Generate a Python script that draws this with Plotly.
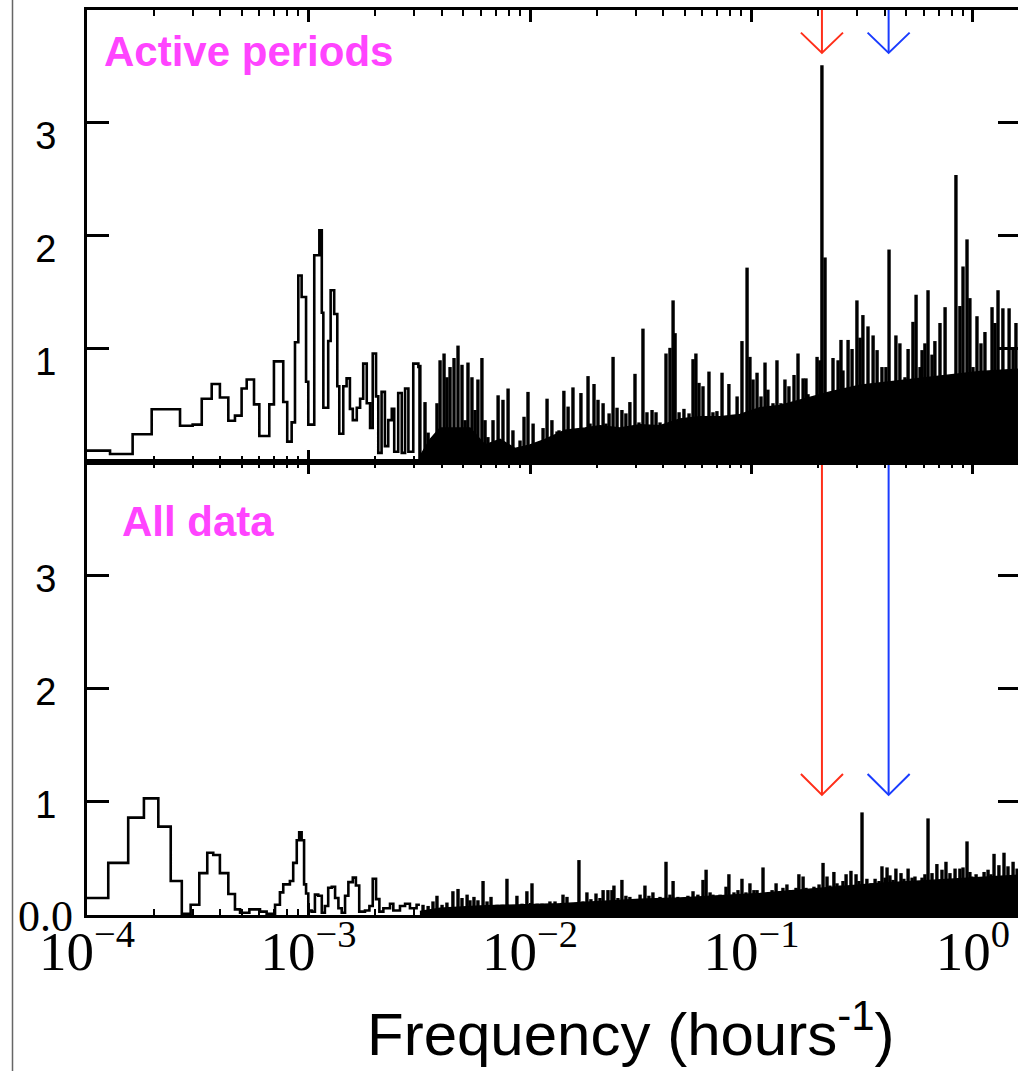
import plotly.graph_objects as go

# ---------------- data ----------------
# Frequencies are stored as log10(frequency / hours^-1).

# "Active periods" panel: low-frequency stepped periodogram (bin start, power)
act_step_logf = [-4.0, -3.896, -3.794, -3.708, -3.580, -3.523, -3.482, -3.437, -3.400, -3.362,
                 -3.332, -3.302, -3.279, -3.246, -3.222, -3.177, -3.156, -3.114, -3.096, -3.076,
                 -3.061, -3.046, -3.031, -3.011, -3.001, -2.974, -2.951, -2.940, -2.933, -2.911,
                 -2.900, -2.884, -2.870, -2.861, -2.843, -2.828, -2.813, -2.800, -2.782, -2.767,
                 -2.753, -2.737, -2.722, -2.710, -2.695, -2.685, -2.670, -2.655, -2.640, -2.624,
                 -2.613, -2.595, -2.579, -2.564, -2.549, -2.527, -2.504, -2.497]
act_step_pow = [0.10, 0.07, 0.245, 0.466, 0.32, 0.33, 0.56, 0.69, 0.57, 0.365,
                0.41, 0.65, 0.73, 0.51, 0.23, 0.51, 0.89, 0.53, 0.18, 0.35,
                1.06, 1.65, 1.46, 0.71, 0.33, 1.83, 2.05, 1.32, 0.48, 1.07,
                1.52, 1.31, 0.67, 0.25, 0.67, 0.74, 0.47, 0.37, 0.48, 0.56,
                0.87, 0.52, 0.30, 0.96, 0.58, 0.08, 0.62, 0.14, 0.37, 0.47,
                0.09, 0.61, 0.08, 0.65, 0.09, 0.87, 0.84, 0.84]

# "Active periods" panel: dense high-frequency peaks
act_spike_logf = [-2.497, -2.474, -2.460, -2.438, -2.420, -2.406, -2.388, -2.375, -2.361, -2.343,
                  -2.325, -2.307, -2.293, -2.280, -2.262, -2.248, -2.235, -2.217, -2.203, -2.190,
                  -2.167, -2.144, -2.122, -2.099, -2.077, -2.045, -2.027, -2.009, -1.986, -1.964,
                  -1.941, -1.923, -1.901, -1.878, -1.869, -1.847, -1.828, -1.806, -1.788, -1.770,
                  -1.756, -1.738, -1.729, -1.711, -1.693, -1.670, -1.657, -1.643, -1.625, -1.607,
                  -1.585, -1.567, -1.549, -1.526, -1.508, -1.490, -1.472, -1.449, -1.431, -1.413,
                  -1.386, -1.368, -1.354, -1.345, -1.327, -1.305, -1.282, -1.264, -1.251, -1.237,
                  -1.219, -1.192, -1.174, -1.156, -1.133, -1.120, -1.102, -1.084, -1.065, -1.043,
                  -1.020, -1.007, -0.993, -0.975, -0.957, -0.939, -0.926, -0.903, -0.885, -0.867,
                  -0.849, -0.831, -0.808, -0.790, -0.767, -0.754, -0.745, -0.727, -0.704, -0.691,
                  -0.682, -0.668, -0.650, -0.632, -0.609, -0.596, -0.587, -0.564, -0.546, -0.524,
                  -0.510, -0.497, -0.474, -0.451, -0.433, -0.411, -0.393, -0.379, -0.366, -0.348,
                  -0.330, -0.307, -0.293, -0.271, -0.257, -0.239, -0.230, -0.217, -0.203, -0.185,
                  -0.172, -0.149, -0.126, -0.104, -0.077, -0.059, -0.045, -0.027, -0.014, 0.000,
                  0.018, 0.036, 0.054, 0.086, 0.099, 0.113, 0.135, 0.163, 0.181, 0.194]
act_spike_pow = [0.86, 0.53, 0.26, 0.22, 0.52, 0.90, 0.96, 0.75, 0.84, 0.92,
                 1.03, 0.86, 0.37, 0.88, 0.75, 0.46, 0.73, 0.92, 0.37, 0.22,
                 0.37, 0.59, 0.55, 0.65, 0.28, 0.19, 0.40, 0.62, 0.34, 0.17,
                 0.30, 0.56, 0.37, 0.27, 0.28, 0.63, 0.49, 0.66, 0.22, 0.61,
                 0.28, 0.76, 0.34, 0.69, 0.55, 0.52, 0.34, 0.43, 0.93, 0.48,
                 0.46, 0.43, 0.53, 0.78, 0.35, 1.18, 0.44, 0.46, 0.44, 0.35,
                 0.96, 1.01, 1.43, 1.14, 0.44, 0.47, 0.43, 0.91, 0.96, 0.70,
                 0.67, 0.80, 0.44, 0.45, 0.79, 0.31, 0.69, 0.41, 0.58, 1.07,
                 1.72, 0.93, 0.73, 0.79, 0.58, 0.88, 0.64, 0.52, 0.90, 0.52,
                 0.73, 0.67, 0.77, 0.96, 0.74, 0.74, 0.60, 0.35, 0.93, 0.90,
                 3.51, 1.81, 0.55, 0.92, 0.90, 1.08, 0.81, 1.08, 1.00, 1.43,
                 1.10, 1.30, 1.20, 1.12, 0.99, 0.84, 0.84, 1.88, 0.58, 1.12,
                 1.05, 0.75, 1.00, 1.24, 1.48, 0.84, 0.99, 1.05, 1.52, 0.95,
                 1.07, 1.23, 1.37, 0.68, 2.54, 1.38, 1.73, 1.97, 1.45, 0.84,
                 1.29, 1.05, 1.15, 1.37, 1.23, 1.52, 1.36, 1.36, 1.00, 1.23]

# "Active periods" panel: mostly-black lower envelope of the dense noise
act_floor_logf = [-2.497, -2.451, -2.406, -2.271, -2.203, -2.135, -2.068, -2.000, -1.932, -1.842,
                  -1.752, -1.684, -1.594, -1.503, -1.413, -1.323, -1.233, -1.142, -1.052, -0.962,
                  -0.871, -0.781, -0.646, -0.510, -0.330, -0.149, 0.032, 0.203]
act_floor_pow = [0.05, 0.20, 0.30, 0.30, 0.15, 0.20, 0.12, 0.15, 0.20, 0.28,
                 0.30, 0.32, 0.30, 0.33, 0.32, 0.38, 0.40, 0.40, 0.42, 0.48,
                 0.50, 0.55, 0.62, 0.68, 0.72, 0.76, 0.80, 0.82]

# "All data" panel: low-frequency stepped periodogram
all_step_logf = [-4.0, -3.904, -3.814, -3.743, -3.678, -3.622, -3.572, -3.532, -3.493, -3.457,
                 -3.430, -3.400, -3.362, -3.332, -3.309, -3.267, -3.219, -3.189, -3.151, -3.129,
                 -3.114, -3.084, -3.069, -3.053, -3.042, -3.031, -3.020, -3.011, -3.001, -2.986,
                 -2.971, -2.956, -2.940, -2.926, -2.911, -2.895, -2.880, -2.865, -2.850, -2.835,
                 -2.820, -2.800, -2.786, -2.771, -2.745, -2.725, -2.710, -2.695, -2.680, -2.662,
                 -2.632, -2.617, -2.587, -2.564, -2.542, -2.512, -2.497]
all_step_pow = [0.15, 0.46, 0.86, 1.03, 0.78, 0.30, 0.01, 0.09, 0.37, 0.55,
                0.53, 0.37, 0.185, 0.05, 0.02, 0.05, 0.03, 0.01, 0.09, 0.20,
                0.27, 0.30, 0.46, 0.66, 0.73, 0.66, 0.27, 0.19, 0.04, 0.03,
                0.18, 0.17, 0.02, 0.08, 0.24, 0.25, 0.15, 0.06, 0.02, 0.17,
                0.29, 0.33, 0.26, 0.03, 0.04, 0.08, 0.32, 0.14, 0.03, 0.06,
                0.10, 0.04, 0.08, 0.10, 0.06, 0.09, 0.09]

# "All data" panel: dense high-frequency peaks
all_spike_logf = [-2.483, -2.460, -2.438, -2.420, -2.397, -2.375, -2.348, -2.325, -2.307, -2.284,
                  -2.271, -2.253, -2.235, -2.212, -2.194, -2.176, -2.149, -2.126, -2.104, -2.081,
                  -2.059, -2.036, -2.014, -1.991, -1.968, -1.946, -1.923, -1.910, -1.887, -1.865,
                  -1.851, -1.833, -1.806, -1.779, -1.761, -1.743, -1.725, -1.702, -1.684, -1.670,
                  -1.648, -1.630, -1.621, -1.603, -1.585, -1.567, -1.549, -1.526, -1.503, -1.481,
                  -1.463, -1.445, -1.427, -1.413, -1.386, -1.368, -1.354, -1.332, -1.309, -1.287,
                  -1.264, -1.242, -1.219, -1.205, -1.187, -1.174, -1.156, -1.142, -1.115, -1.102,
                  -1.079, -1.061, -1.043, -1.025, -1.007, -0.989, -0.975, -0.962, -0.948, -0.926,
                  -0.907, -0.889, -0.871, -0.858, -0.840, -0.826, -0.813, -0.799, -0.786, -0.767,
                  -0.754, -0.736, -0.718, -0.695, -0.677, -0.659, -0.646, -0.628, -0.614, -0.600,
                  -0.587, -0.573, -0.551, -0.528, -0.515, -0.501, -0.479, -0.460, -0.442, -0.424,
                  -0.411, -0.397, -0.388, -0.375, -0.361, -0.348, -0.325, -0.312, -0.293, -0.275,
                  -0.262, -0.248, -0.230, -0.217, -0.203, -0.185, -0.163, -0.140, -0.122, -0.104,
                  -0.081, -0.059, -0.045, -0.027, -0.014, -0.005, 0.014, 0.032, 0.050, 0.068,
                  0.081, 0.095, 0.117, 0.140, 0.158, 0.181, 0.199]
all_spike_pow = [0.09, 0.08, 0.12, 0.17, 0.09, 0.11, 0.21, 0.23, 0.15, 0.18,
                 0.13, 0.16, 0.13, 0.30, 0.12, 0.16, 0.09, 0.09, 0.32, 0.08,
                 0.17, 0.10, 0.21, 0.28, 0.10, 0.10, 0.09, 0.12, 0.12, 0.10,
                 0.18, 0.16, 0.08, 0.485, 0.12, 0.20, 0.14, 0.19, 0.15, 0.22,
                 0.22, 0.22, 0.26, 0.15, 0.31, 0.17, 0.16, 0.14, 0.18, 0.26,
                 0.17, 0.20, 0.14, 0.16, 0.47, 0.18, 0.30, 0.16, 0.15, 0.17,
                 0.21, 0.18, 0.31, 0.40, 0.20, 0.18, 0.15, 0.18, 0.25, 0.36,
                 0.20, 0.22, 0.32, 0.20, 0.28, 0.22, 0.22, 0.19, 0.42, 0.19,
                 0.22, 0.28, 0.21, 0.24, 0.27, 0.22, 0.19, 0.24, 0.36, 0.34,
                 0.24, 0.19, 0.25, 0.27, 0.46, 0.34, 0.26, 0.38, 0.28, 0.26,
                 0.30, 0.36, 0.39, 0.36, 0.30, 0.906, 0.32, 0.28, 0.32, 0.30,
                 0.43, 0.33, 0.42, 0.35, 0.31, 0.41, 0.37, 0.32, 0.41, 0.33,
                 0.34, 0.30, 0.33, 0.36, 0.853, 0.37, 0.45, 0.40, 0.47, 0.37,
                 0.41, 0.41, 0.42, 0.65, 0.38, 0.34, 0.36, 0.33, 0.38, 0.40,
                 0.36, 0.54, 0.44, 0.55, 0.43, 0.47, 0.41]

# "All data" panel: mostly-black lower envelope
all_floor_logf = [-2.497, -2.406, -2.226, -2.045, -1.865, -1.684, -1.503, -1.323, -1.142, -0.962,
                  -0.781, -0.600, -0.420, -0.239, -0.059, 0.203]
all_floor_pow = [0.03, 0.06, 0.08, 0.09, 0.10, 0.12, 0.14, 0.15, 0.17, 0.19,
                 0.22, 0.25, 0.28, 0.30, 0.32, 0.35]

# Marked frequencies (arrows), hours^-1
marked_freq = [0.208, 0.416]
marked_color = ["#ff2f1a", "#1a3cff"]

panel_labels = ["Active periods", "All data"]
y_tick_vals = [1, 2, 3]

# ---------------- styling constants ----------------
SANS = "Liberation Sans, Arial, Helvetica, sans-serif"
SERIF = "Liberation Serif, Times New Roman, Times, serif"
MAGENTA = "#ff44ff"
W, H = 1018, 1071
ML, MR, MT, MB = 87, 0, 10, 156
PW, PH = W - ML - MR, H - MT - MB
SPLIT = 0.5006
XR = [-4, 0.2032]
HEAD_HW = 0.095          # arrow-head half width in decades
TOP_TIP, TOP_ARM = 3.62, 3.80
BOT_TIP, BOT_ARM = 1.06, 1.245


def tofreq(lst):
    return [10 ** v for v in lst]


def spikes(logf, pw):
    xs, ys = [], []
    for a, b in zip(logf, pw):
        xs += [10 ** a, 10 ** a, None]
        ys += [0, b, None]
    return xs, ys


def px(xp):
    return (xp - ML) / PW


def py(yp):
    return (H - MB - yp) / PH


fig = go.Figure()

panels = [
    ("x2", "y2", act_step_logf, act_step_pow, act_spike_logf, act_spike_pow,
     act_floor_logf, act_floor_pow, TOP_TIP, TOP_ARM),
    ("x", "y", all_step_logf, all_step_pow, all_spike_logf, all_spike_pow,
     all_floor_logf, all_floor_pow, BOT_TIP, BOT_ARM),
]

for (xa, ya, slf, sp, klf, kp, flf, fp, tip, arm) in panels:
    fig.add_trace(go.Scatter(x=tofreq(flf), y=fp, xaxis=xa, yaxis=ya, mode="lines",
                             line=dict(color="black", width=1.5), fill="tozeroy",
                             fillcolor="black", hoverinfo="skip", showlegend=False))
    kx, ky = spikes(klf, kp)
    fig.add_trace(go.Scatter(x=kx, y=ky, xaxis=xa, yaxis=ya, mode="lines",
                             line=dict(color="black", width=3.4), hoverinfo="skip",
                             showlegend=False))
    fig.add_trace(go.Scatter(x=tofreq(slf), y=sp, xaxis=xa, yaxis=ya, mode="lines",
                             line=dict(color="black", width=2.6, shape="hv"),
                             hoverinfo="skip", showlegend=False))
    for fq, col in zip(marked_freq, marked_color):
        fig.add_trace(go.Scatter(x=[fq, fq], y=[4.0, tip], xaxis=xa, yaxis=ya, mode="lines",
                                 line=dict(color=col, width=2), hoverinfo="skip",
                                 showlegend=False))
        fig.add_trace(go.Scatter(x=[fq * 10 ** -HEAD_HW, fq, fq * 10 ** HEAD_HW],
                                 y=[arm, tip, arm], xaxis=xa, yaxis=ya, mode="lines",
                                 line=dict(color=col, width=2), hoverinfo="skip",
                                 showlegend=False))

# dummy traces so the right-hand tick axes are drawn
for ya, xa in (("y3", "x"), ("y4", "x2")):
    fig.add_trace(go.Scatter(x=[None], y=[None], xaxis=xa, yaxis=ya, showlegend=False,
                             hoverinfo="skip"))

common_x = dict(type="log", range=XR, showline=True, linewidth=3, linecolor="black",
                mirror="ticks", ticks="inside", ticklen=12, tickwidth=2.5, tickcolor="black",
                dtick=1, exponentformat="power", showgrid=False, zeroline=False,
                labelalias={"1": "10<sup>0</sup>"},
                minor=dict(ticks="inside", ticklen=6, tickwidth=2, tickcolor="black",
                           dtick="D1", showgrid=False))
common_y = dict(range=[0, 4], showline=True, linewidth=3, linecolor="black", ticks="inside",
                ticklen=22, tickwidth=3, tickcolor="black", tickvals=y_tick_vals,
                tickfont=dict(family=SANS, size=38, color="black"), showgrid=False,
                zeroline=False, ticklabelstandoff=20)
right_y = dict(range=[0, 4], side="right", ticks="inside", ticklen=20, tickwidth=3,
               tickcolor="black", tickvals=y_tick_vals, showticklabels=False, showline=False,
               showgrid=False, zeroline=False)

fig.update_layout(
    width=W, height=H,
    margin=dict(l=ML, r=MR, t=MT, b=MB, pad=0),
    paper_bgcolor="white", plot_bgcolor="white",
    showlegend=False,
    xaxis=dict(common_x, domain=[0, 1], anchor="y",
               tickfont=dict(family=SERIF, size=44, color="black"), ticklabelstandoff=-12),
    xaxis2=dict(common_x, domain=[0, 1], anchor="y2", showticklabels=False),
    yaxis=dict(common_y, domain=[0, SPLIT], anchor="x", ticklabelshift=3),
    yaxis2=dict(common_y, domain=[SPLIT, 1], anchor="x2", ticklabelshift=13),
    yaxis3=dict(right_y, overlaying="y", anchor="x"),
    yaxis4=dict(right_y, overlaying="y2", anchor="x2"),
)

annotations = [
    dict(text=panel_labels[0], x=px(102), y=py(51), xref="paper", yref="paper",
         xanchor="left", yanchor="middle", showarrow=False,
         font=dict(family=SANS, size=42, color=MAGENTA, weight="bold")),
    dict(text=panel_labels[1], x=px(120), y=py(521), xref="paper", yref="paper",
         xanchor="left", yanchor="middle", showarrow=False,
         font=dict(family=SANS, size=42, color=MAGENTA, weight="bold")),
    dict(text="0.0", x=px(75), y=py(916), xref="paper", yref="paper",
         xanchor="right", yanchor="middle", showarrow=False,
         font=dict(family=SERIF, size=44, color="black")),
    dict(text="Frequency (hours<sup>-1</sup>)", x=px(631), y=py(1030), xref="paper",
         yref="paper", xanchor="center", yanchor="middle", showarrow=False,
         font=dict(family=SANS, size=60, color="black")),
]
fig.update_layout(annotations=annotations)

fig.add_shape(type="line", xref="paper", yref="paper", x0=px(12.5), x1=px(12.5),
              y0=py(H), y1=py(0), line=dict(color="#666666", width=1.5))

fig.write_html("out.html")
